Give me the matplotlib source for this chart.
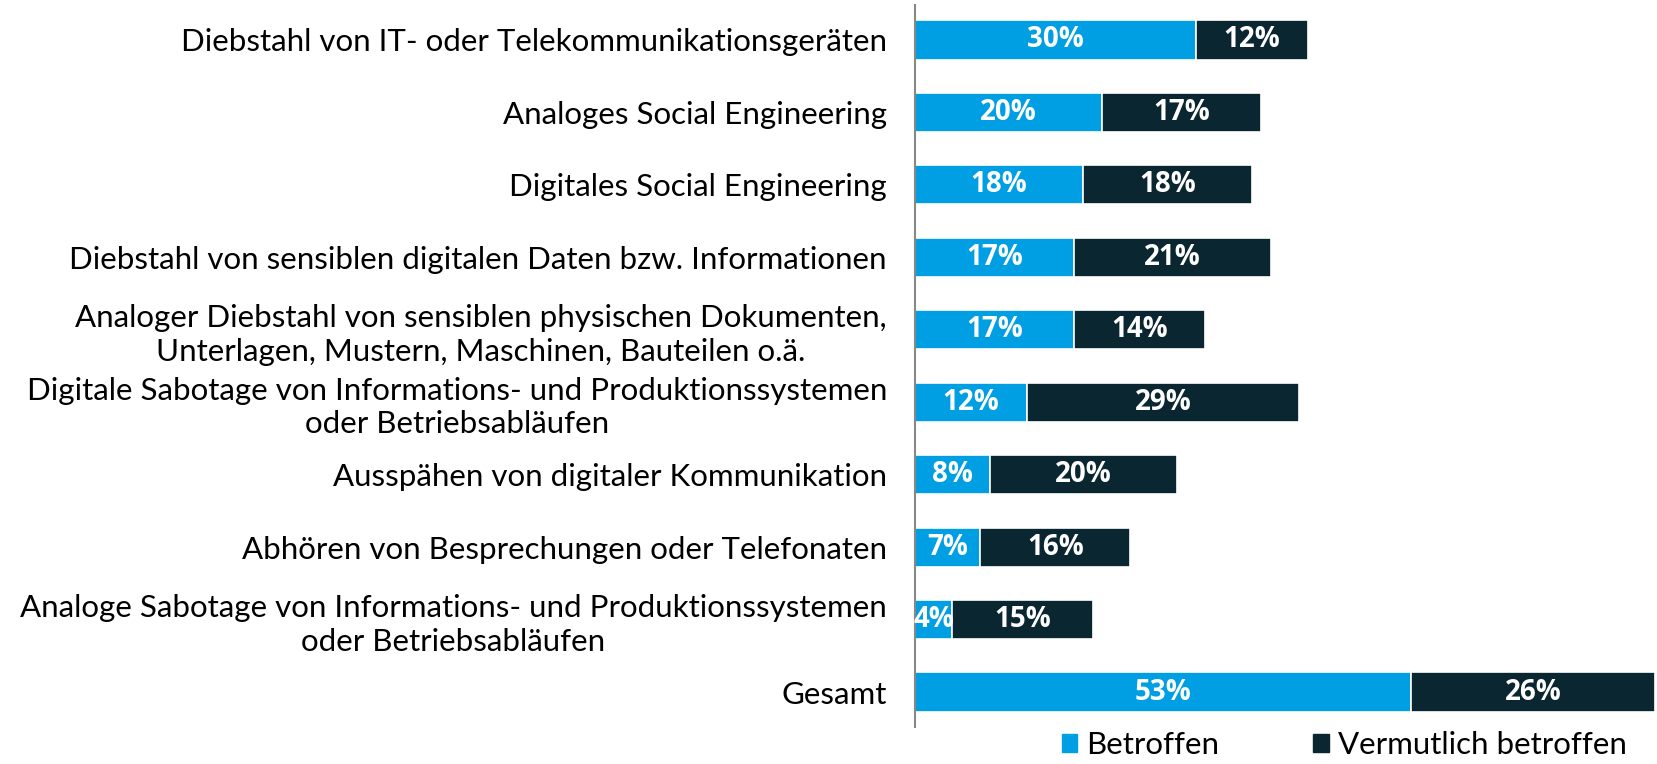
import numpy as np
import matplotlib
matplotlib.use("Agg")
import matplotlib.pyplot as plt
from matplotlib.patches import Patch

plt.rcParams['font.family'] = ['Lato', 'DejaVu Sans']

categories = [
    "Diebstahl von IT- oder Telekommunikationsgeräten",
    "Analoges Social Engineering",
    "Digitales Social Engineering",
    "Diebstahl von sensiblen digitalen Daten bzw. Informationen",
    "Analoger Diebstahl von sensiblen physischen Dokumenten,\nUnterlagen, Mustern, Maschinen, Bauteilen o.ä.",
    "Digitale Sabotage von Informations- und Produktionssystemen\noder Betriebsabläufen",
    "Ausspähen von digitaler Kommunikation",
    "Abhören von Besprechungen oder Telefonaten",
    "Analoge Sabotage von Informations- und Produktionssystemen\noder Betriebsabläufen",
    "Gesamt",
]
betroffen = [30, 20, 18, 17, 17, 12, 8, 7, 4, 53]
vermutlich = [12, 17, 18, 21, 14, 29, 20, 16, 15, 26]
series_names = ["Betroffen", "Vermutlich betroffen"]

blue = "#009FE3"
dark = "#0A2630"

fig = plt.figure(figsize=(16.57, 7.64), dpi=100)
ax = fig.add_axes([0.552, 0.0484, 0.448, 0.9451])

y = np.arange(len(categories))
h = 0.54
b1 = ax.barh(y, betroffen, height=h, color=blue, edgecolor="white", linewidth=1.2)
b2 = ax.barh(y, vermutlich, left=betroffen, height=h, color=dark, edgecolor="white", linewidth=1.2)

for vals, offs in [(betroffen, [0] * len(betroffen)), (vermutlich, betroffen)]:
    for i, v in enumerate(vals):
        ax.text(offs[i] + v / 2, y[i], f"{v}%", ha="center", va="center",
                color="white", fontsize=20, fontweight="bold", family="Open Sans")

ax.set_ylim(len(categories) - 1 + 0.483, -0.483)
ax.set_xlim(0, 79.2)
ax.set_yticks(y)
ax.set_yticklabels(categories, fontsize=22.5, multialignment="center", linespacing=1.25)
ax.tick_params(axis="y", length=0, pad=20)
ax.set_xticks([])
for s in ["top", "right", "bottom"]:
    ax.spines[s].set_visible(False)
ax.spines["left"].set_color("#888888")
ax.spines["left"].set_linewidth(1.5)

handles = [Patch(color=blue), Patch(color=dark)]
fig.legend(handles, series_names, loc="lower right", bbox_to_anchor=(0.982, 0.006),
           ncol=2, frameon=False, fontsize=22.5, handlelength=0.5, handleheight=0.5,
           handletextpad=0.3, columnspacing=3.0, borderpad=0, borderaxespad=0)

fig.savefig("out.png", dpi=100)
